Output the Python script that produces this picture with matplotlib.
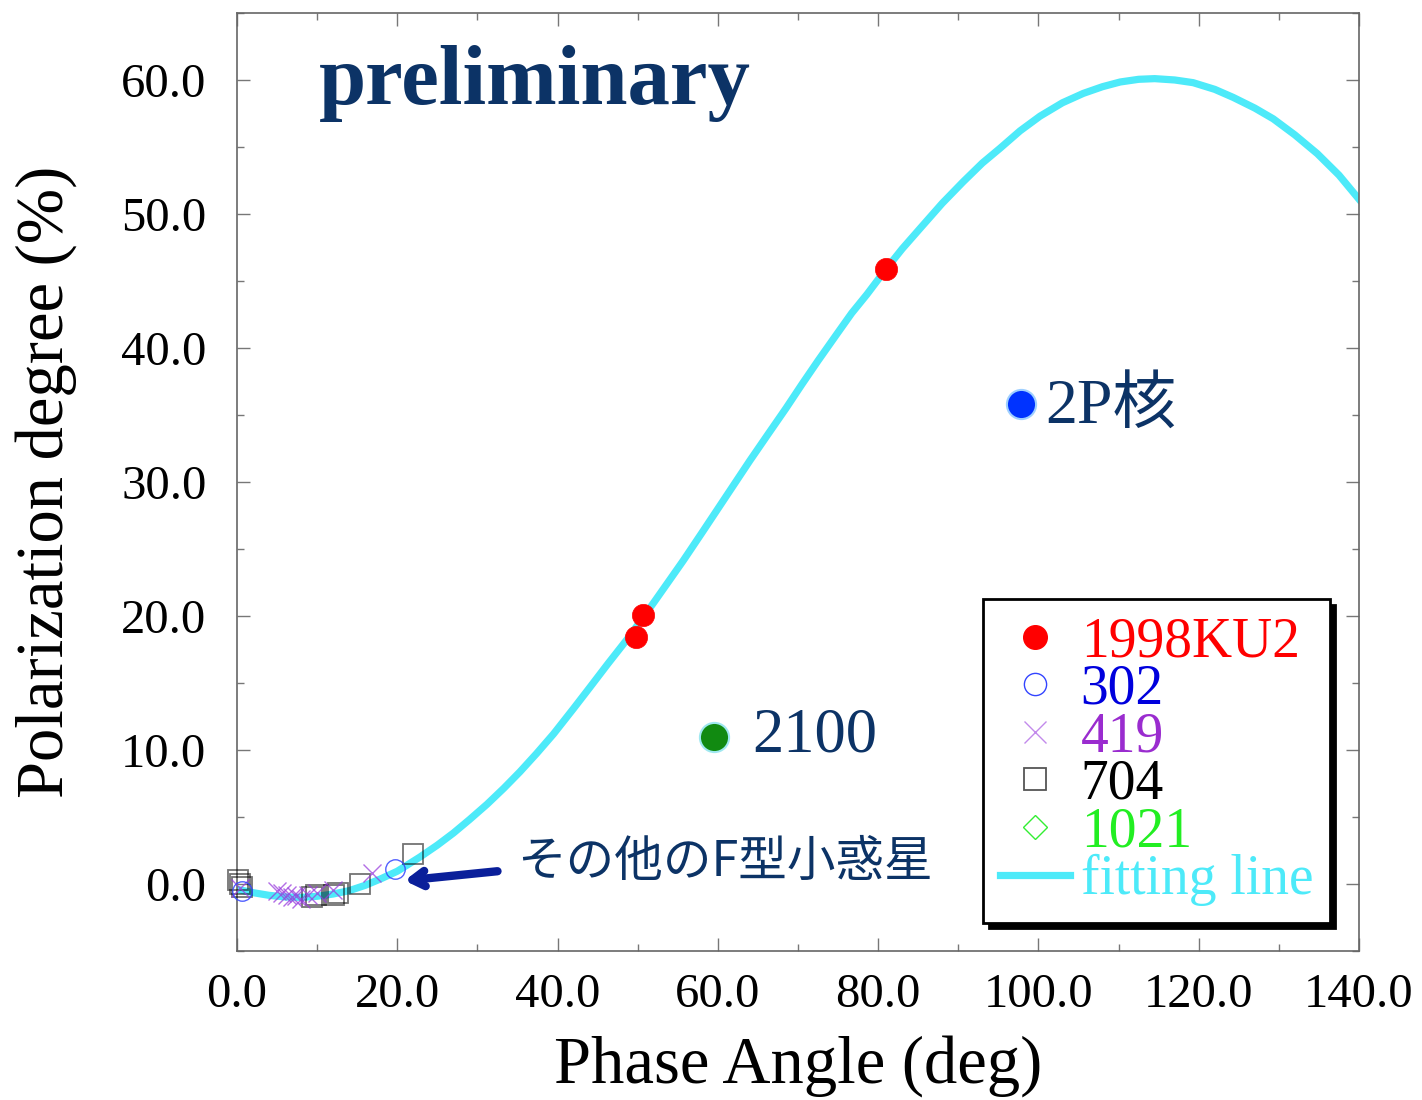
import matplotlib
matplotlib.use("Agg")
import matplotlib.pyplot as plt
from matplotlib.lines import Line2D
from matplotlib.ticker import MultipleLocator, FormatStrFormatter

plt.rcParams['font.family'] = ['Liberation Serif', 'Noto Sans CJK JP']

# ---- data ----
fit_x = [0, 2, 4, 6, 8, 10, 12, 14, 16, 18, 20, 22.8, 25, 27, 29, 31.2, 33.3,
         35.3, 37.4, 39.5, 42, 44, 46.3, 48.6, 50.2, 52, 54, 55.7, 58, 60, 62,
         64, 66.3, 68.5, 70.5, 72.5, 74.8, 76.7, 78.6, 81, 83, 85.2, 88, 90.6,
         93, 95.2, 97.7, 100.2, 103, 105.6, 108, 110.2, 112.5, 114.5, 117,
         119.3, 122, 124.3, 127, 129.3, 132, 134.8, 137.5, 140]
fit_y = [-0.4, -0.65, -0.85, -0.97, -1.0, -0.92, -0.75, -0.5, -0.1, 0.4, 0.95,
         2.0, 2.9, 3.8, 4.8, 5.95, 7.15, 8.37, 9.75, 11.2, 13.1, 14.65, 16.45,
         18.2, 19.5, 21.0, 22.7, 24.15, 26.2, 28.0, 29.8, 31.6, 33.6, 35.5,
         37.3, 39.05, 41.0, 42.6, 44.0, 45.9, 47.4, 48.9, 50.8, 52.4, 53.8,
         54.9, 56.2, 57.3, 58.3, 59.0, 59.5, 59.85, 60.05, 60.1, 60.0, 59.8,
         59.3, 58.7, 57.9, 57.1, 55.9, 54.5, 52.9, 51.1]

ku2_x = [49.8, 50.7, 81.0]
ku2_y = [18.4, 20.1, 45.9]

a302_x = [0.6, 19.7]
a302_y = [-0.5, 1.1]

a419_x = [0.4, 5.0, 5.6, 6.2, 6.9, 7.3, 8.0, 8.9, 10.0, 12.0, 16.8]
a419_y = [-0.3, -0.5, -0.7, -0.85, -1.0, -0.9, -1.1, -0.8, -0.7, -0.45, 0.8]

a704_x = [0.1, 0.4, 0.6, 9.3, 9.8, 12.1, 12.6, 15.3, 22.0]
a704_y = [0.3, 0.0, -0.2, -1.0, -0.85, -0.8, -0.65, 0.0, 2.2]

a1021_x = []
a1021_y = []

x2100 = [59.5]
y2100 = [10.95]

x2p = [97.8]
y2p = [35.8]

labels = ['1998KU2', '302', '419', '704', '1021', 'fitting line']

# ---- colours ----
NAVY = '#0c3366'
CYAN = '#4deaf9'
RED = '#ff0000'
BLUE302 = '#3344ff'
PURPLE = '#9a3dde'
GREEN1021 = '#33ee33'

fig = plt.figure(figsize=(14.22, 11), dpi=100)
ax = fig.add_axes([0.1667, 0.1355, 0.789, 0.8527])

ax.plot(fit_x, fit_y, color=CYAN, lw=5.2, solid_joinstyle='round', zorder=2)

ax.plot(a704_x, a704_y, ls='none', marker='s', ms=14, mfc='none', mec='black',
        mew=1.3, alpha=0.55, clip_on=False, zorder=3)
ax.plot(a419_x, a419_y, ls='none', marker='x', ms=13, mec=PURPLE, mew=1.0,
        alpha=0.75, clip_on=False, zorder=3)
ax.plot(a302_x, a302_y, ls='none', marker='o', ms=14, mfc='none', mec=BLUE302,
        mew=1.0, alpha=0.85, clip_on=False, zorder=3)
ax.plot(a1021_x, a1021_y, ls='none', marker='D', ms=11, mfc='none', mec=GREEN1021, mew=1.0)

ax.plot(ku2_x, ku2_y, ls='none', marker='o', ms=16, mfc=RED, mec=RED, mew=0.5, zorder=4)
ax.plot(x2100, y2100, ls='none', marker='o', ms=21, mfc='#118a11', mec='#9fe8f0', mew=1.5, zorder=4)
ax.plot(x2p, y2p, ls='none', marker='o', ms=21, mfc='#0033ff', mec='#9fd0ff', mew=1.5, zorder=4)

# text annotations
ax.text(10.2, 58.2, 'preliminary', fontsize=61, fontweight='bold', color=NAVY,
        ha='left', va='baseline')
ax.text(100.8, 34.4, '2P核', fontsize=46, color=NAVY, ha='left', va='baseline',
        family=['Liberation Serif', 'Noto Sans CJK JP'])
ax.text(64.3, 9.9, '2100', fontsize=45, color=NAVY, ha='left', va='baseline')
ax.text(35.0, 1.6, 'その他のF型小惑星', fontsize=35, color=NAVY, ha='left',
        va='center', family=['Noto Sans CJK JP', 'Liberation Serif'])
ax.annotate('', xy=(20.9, 0.25), xytext=(32.5, 0.95),
            arrowprops=dict(arrowstyle='->,head_length=0.9,head_width=0.55',
                            color='#0a1f9a', lw=6, shrinkA=0, shrinkB=0))

# axes
ax.set_xlim(0, 140)
ax.set_ylim(-5, 65)
ax.xaxis.set_major_locator(MultipleLocator(20))
ax.xaxis.set_minor_locator(MultipleLocator(10))
ax.yaxis.set_major_locator(MultipleLocator(10))
ax.yaxis.set_minor_locator(MultipleLocator(5))
ax.xaxis.set_major_formatter(FormatStrFormatter('%.1f'))
ax.yaxis.set_major_formatter(FormatStrFormatter('%.1f'))
ax.tick_params(which='both', direction='in', top=True, right=True, color='#777777',
               width=1.0)
ax.tick_params(which='major', length=9.5, labelsize=35)
ax.tick_params(which='minor', length=5)
ax.tick_params(axis='x', which='major', pad=16)
ax.tick_params(axis='y', which='major', pad=22)
for s in ax.spines.values():
    s.set_color('#666666')
    s.set_linewidth(1.2)

ax.set_xlabel('Phase Angle (deg)', fontsize=48, labelpad=13)
ax.set_ylabel('Polarization degree (%)', fontsize=48, labelpad=32)

handles = [
    Line2D([], [], ls='none', marker='o', ms=17, mfc=RED, mec=RED),
    Line2D([], [], ls='none', marker='o', ms=16, mfc='none', mec=BLUE302, mew=1.0),
    Line2D([], [], ls='none', marker='x', ms=16, mec=PURPLE, mew=1.0, alpha=0.6),
    Line2D([], [], ls='none', marker='s', ms=16, mfc='none', mec='#555555', mew=1.3),
    Line2D([], [], ls='none', marker='D', ms=12, mfc='none', mec=GREEN1021, mew=1.0),
    Line2D([], [], color=CYAN, lw=5.2),
]
leg = ax.legend(handles, labels, loc='lower right', bbox_to_anchor=(0.974, 0.030),
                borderaxespad=0, fontsize=40, frameon=True, fancybox=False,
                shadow={'color': 'black', 'alpha': 1, 'ox': 4, 'oy': -4},
                labelspacing=-0.08, handlelength=1.25, handletextpad=0.2,
                borderpad=0.3,
                labelcolor=[RED, '#0000dd', '#9a2ccf', 'black', '#22ee22', CYAN])
leg.get_frame().set_edgecolor('black')
leg.get_frame().set_linewidth(2)
leg.get_frame().set_alpha(1)

fig.savefig('out.png', dpi=100)
